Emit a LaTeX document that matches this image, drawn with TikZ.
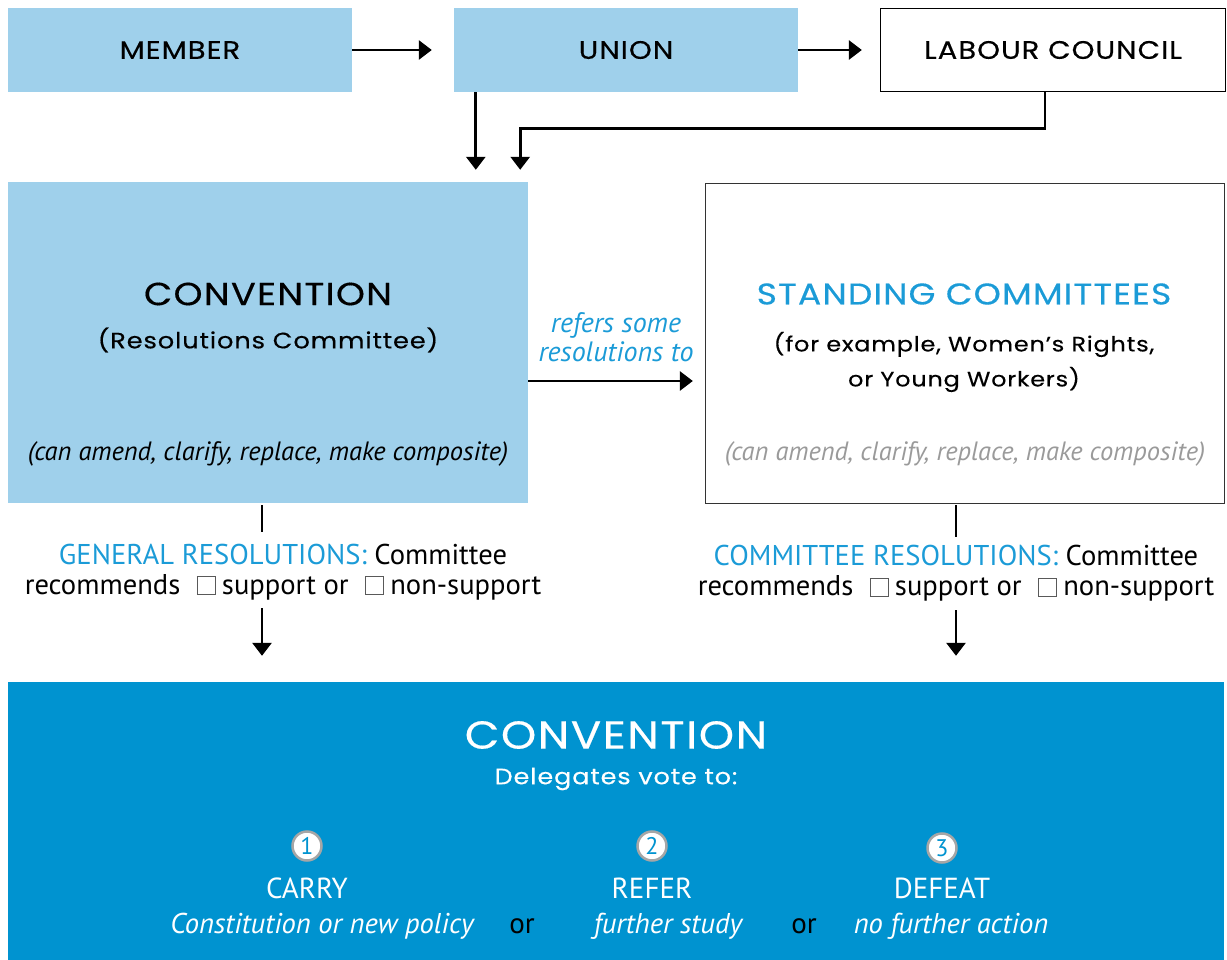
\documentclass[tikz,border=0pt]{standalone}
\usepackage{fontspec}
\setmainfont{PT Sans}
\newfontfamily\gmed[FakeBold=0.4,FakeStretch=1.15,LetterSpace=4]{Poppins}
\usetikzlibrary{arrows.meta}
\definecolor{lblue}{HTML}{9FD0EB}
\definecolor{dblue}{HTML}{0093D0}
\definecolor{tblue}{HTML}{1B9BD7}
\definecolor{gtext}{HTML}{9A9A9A}
\newcommand\cbox{\hspace{9pt}{\setlength\fboxsep{0pt}\setlength\fboxrule{1pt}\color{black!65}\fbox{\rule{0pt}{17pt}\hspace{17pt}}}\hspace{6pt}}
\tikzset{
  topbox/.style={minimum width=344pt,minimum height=84pt,inner sep=0pt,font=\gmed\fontsize{25.3}{28}\selectfont},
  bigbox/.style={minimum width=520pt,minimum height=321pt,inner sep=0pt},
  arr/.style={line width=2.8pt,-{Triangle[width=19pt,length=13pt]}},
  plain/.style={line width=2.8pt},
  body/.style={align=center,font=\fontsize{28.6}{30}\selectfont,inner sep=0pt},
  numc/.style={circle,draw=black!35,line width=2.5pt,fill=white,minimum size=29pt,inner sep=0pt,text=dblue,font=\fontsize{24}{24}\selectfont},
  opt/.style={text=white,font=\fontsize{29}{30}\selectfont,inner sep=0pt},
  optit/.style={text=white,font=\itshape\fontsize{28.6}{30}\selectfont,inner sep=0pt},
}
\begin{document}
\begin{tikzpicture}[x=1pt,y=-1pt]
\useasboundingbox (0,0) rectangle (1227,960);
% top row
\node[topbox,fill=lblue] (member) at (180,50) {MEMBER};
\node[topbox,fill=lblue] (union) at (626,50) {UNION};
\node[topbox,draw=black,line width=1.3pt,minimum width=345pt,minimum height=83pt] (labour) at (1053,50) {LABOUR COUNCIL};
% big boxes
\node[bigbox,fill=lblue] (conv) at (268,342.5) {};
\node[bigbox,draw=black!80,line width=1.3pt,minimum width=519pt,minimum height=320pt] (stand) at (965,343.5) {};
\node[fill=dblue,minimum width=1216pt,minimum height=278pt,inner sep=0pt] (bottom) at (616,821) {};
% connectors top
\draw[arr,shorten >=22pt] (member.east) -- (union.west);
\draw[arr,shorten >=18pt] (union.east) -- (labour.west);
\draw[arr,shorten >=12pt] ([xshift=22pt]union.south west) -- ([xshift=22pt]union.south west |- conv.north);
\coordinate (lc) at ([xshift=-8pt]labour.south);
\coordinate (cv) at ([xshift=-8pt]conv.north east);
\draw[arr,shorten >=12pt] (lc) -- ++(0,36) -| (cv);
% convention text
\node[font=\gmed\fontsize{32}{34}\selectfont,inner sep=0pt] (ct) at (268,294) {CONVENTION};
\node[font=\gmed\fontsize{22.3}{26}\selectfont,inner sep=0pt] (ct2) at (268,340) {(Resolutions Committee)};
\node[font=\itshape\fontsize{26.5}{28}\selectfont,inner sep=0pt] (ct3) at (268,454) {(can amend, clarify, replace, make composite)};
% standing text
\node[text=tblue,font=\gmed\fontsize{30}{32}\selectfont,inner sep=0pt] (st) at (964,294) {STANDING COMMITTEES};
\node[align=center,font=\gmed\fontsize{20.8}{35}\selectfont,inner sep=0pt] (st2) at (964,362) {(for example, Women’s Rights,\\or Young Workers)};
\node[text=gtext,font=\itshape\fontsize{26.5}{28}\selectfont,inner sep=0pt] (st3) at (965,454) {(can amend, clarify, replace, make composite)};
% refers arrow
\draw[arr,shorten >=12pt] ([yshift=-38.5pt]conv.east) -- ([yshift=-37.5pt]stand.west);
\node[align=center,text=tblue,font=\itshape\fontsize{28}{29}\selectfont,inner sep=0pt] (ref) at (616,337) {refers some\\resolutions to};
% left lower
\node[body] (gres) at (283,572) {\textcolor{tblue}{GENERAL RESOLUTIONS:} Committee\\recommends \cbox support or \cbox non-support};
\coordinate (l1) at (262,505);
\coordinate (l2) at (262,532);
\coordinate (l3) at (262,608);
\draw[plain] (l1) -- (l2);
\draw[arr,shorten >=26pt] (l3) -- (l3 |- bottom.north);
% right lower
\node[body] (cres) at (956,573.5) {\textcolor{tblue}{COMMITTEE RESOLUTIONS:} Committee\\recommends \cbox support or \cbox non-support};
\coordinate (r1) at (956,505);
\coordinate (r2) at (956,537);
\coordinate (r3) at (956,610);
\draw[plain] (r1) -- (r2);
\draw[arr,shorten >=26pt] (r3) -- (r3 |- bottom.north);
% bottom content
\node[text=white,font=\gmed\fontsize{39}{44}\selectfont,inner sep=0pt] (bt) at (616,735) {CONVENTION};
\node[text=white,font=\gmed\fontsize{22.2}{26}\selectfont,inner sep=0pt] (bt2) at (616,779) {Delegates vote to:};
\node[numc] (n1) at (307,846) {1};
\node[numc] (n2) at (652,846) {2};
\node[numc] (n3) at (942,848) {3};
\node[opt] (o1) at (307,888) {CARRY};
\node[opt] (o2) at (652,888) {REFER};
\node[opt] (o3) at (942,888) {DEFEAT};
\node[optit] (i1) at (322,926) {Constitution or new policy};
\node[opt,text=black] (or1) at (522,926) {or};
\node[optit] (i2) at (668,926) {further study};
\node[opt,text=black] (or2) at (804,926) {or};
\node[optit] (i3) at (951,926) {no further action};
\end{tikzpicture}
\end{document}
